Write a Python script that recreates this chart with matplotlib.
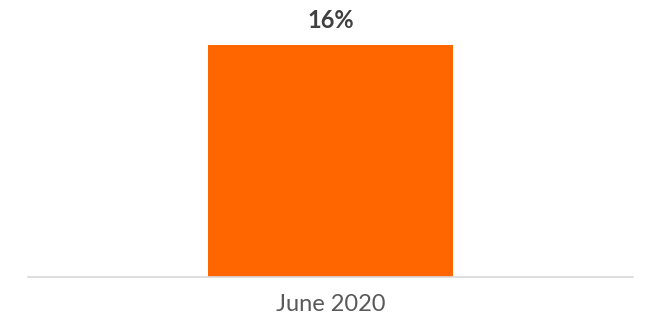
import matplotlib.pyplot as plt

# Data
categories = ["June 2020"]
values = [16]
labels = ["16%"]

plt.rcParams['font.family'] = ['Lato', 'DejaVu Sans']

fig = plt.figure(figsize=(6.46, 3.23), dpi=100)
ax = fig.add_axes([28 / 646, 46 / 323, 605 / 646, (277 - 45) / 323])

x = list(range(len(categories)))
bars = ax.bar(x, values, width=0.405, color="#FF6600")
ax.set_xlim(-0.5, 0.5)
ax.set_ylim(0, max(values))

for xi, v, lab in zip(x, values, labels):
    ax.annotate(lab, (xi, v), xytext=(0, 9), textcoords="offset points",
                ha="center", va="bottom", fontsize=17, fontweight="bold",
                color="#404040", annotation_clip=False)

ax.set_xticks(x)
ax.set_xticklabels(categories, fontsize=17, color="#595959")
ax.tick_params(axis="x", length=0, pad=12)
ax.set_yticks([])
for s in ["top", "right", "left"]:
    ax.spines[s].set_visible(False)
ax.spines["bottom"].set_color("#D9D9D9")
ax.spines["bottom"].set_linewidth(1.2)

fig.savefig("out.png", dpi=100)
